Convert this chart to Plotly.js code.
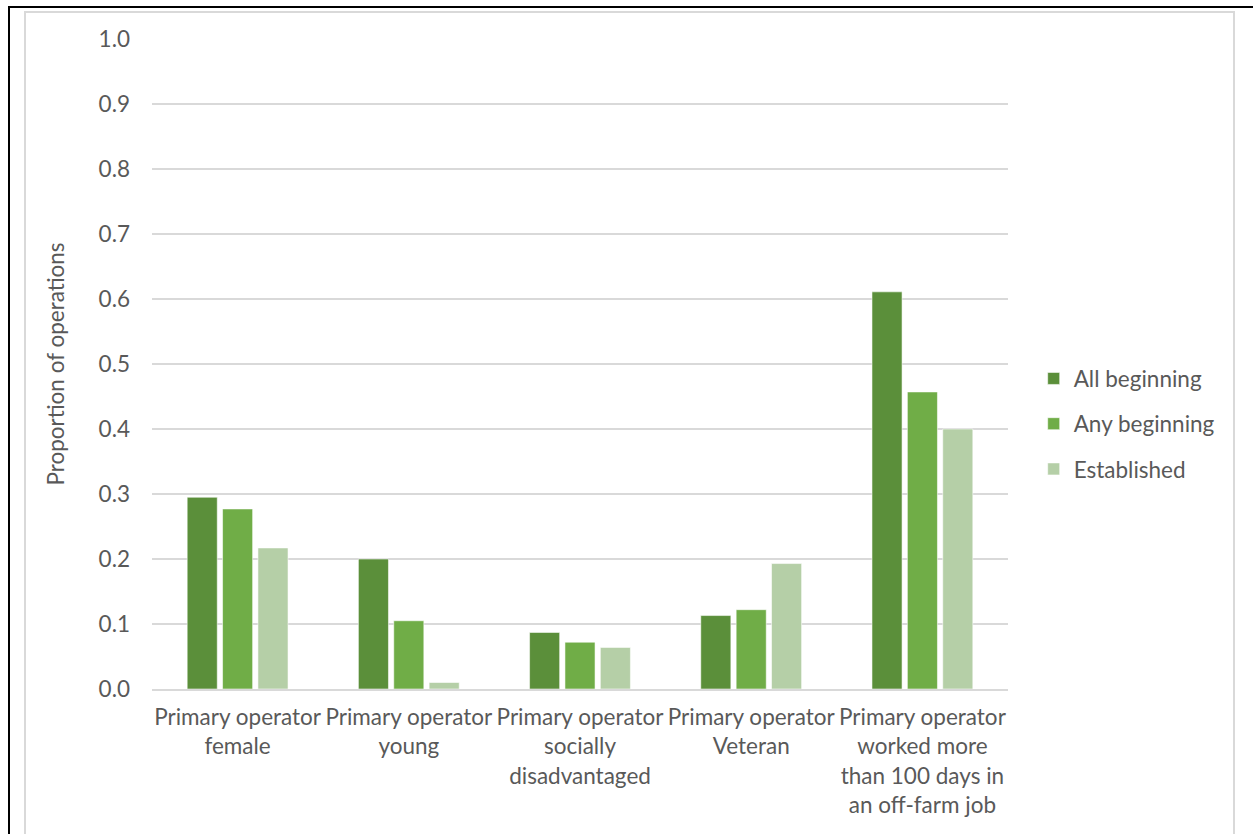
<!DOCTYPE html>
<html>
<head>
<meta charset="utf-8">
<script src="https://cdn.plot.ly/plotly-3.0.1.min.js"></script>
<style>
  html, body { margin: 0; padding: 0; background: #ffffff; overflow: hidden; }
  body { width: 1253px; height: 834px; position: relative; }
  #frameTop { position: absolute; left: 8px; top: 6px; width: 1245px; height: 2px; background: #000; }
  #frameLeft { position: absolute; left: 8px; top: 6px; width: 2px; height: 828px; background: #000; }
  #chartBox { position: absolute; left: 24px; top: 11px; width: 1211px; height: 840px;
              border: 2px solid #d9d9d9; box-sizing: border-box; }
  #chart { position: absolute; left: 0; top: 0; width: 1253px; height: 834px; }
</style>
</head>
<body>
<div id="frameTop"></div>
<div id="frameLeft"></div>
<div id="chartBox"></div>
<div id="chart"></div>
<script>
// Operator characteristics, proportion of operations by beginning status
const categories = [
  "Primary operator<br>female",
  "Primary operator<br>young",
  "Primary operator<br>socially<br>disadvantaged",
  "Primary operator<br>Veteran",
  "Primary operator<br>worked more<br>than 100 days in<br>an off-farm job"
];
const allBeginning = [0.295, 0.200, 0.087, 0.113, 0.611];
const anyBeginning = [0.277, 0.105, 0.072, 0.122, 0.457];
const established  = [0.217, 0.010, 0.064, 0.193, 0.400];

const seriesNames  = ["All beginning", "Any beginning", "Established"];
const seriesColors = ["#5b8f3a", "#70ad47", "#b5cfa7"];
const seriesValues = [allBeginning, anyBeginning, established];

const yTickVals = [0, 0.1, 0.2, 0.3, 0.4, 0.5, 0.6, 0.7, 0.8, 0.9, 1.0];

const fontFamily = "Lato, 'Open Sans', sans-serif";
const textColor = "#595959";
const fontSize = 22.5;

const traces = seriesNames.map((name, i) => ({
  type: "bar",
  name: name,
  x: categories,
  y: seriesValues[i],
  legendgroup: name,
  marker: { color: seriesColors[i], line: { color: "rgba(255,255,255,0.55)", width: 1 } },
  hoverinfo: "x+y+name"
}));

const layout = {
  width: 1253,
  height: 834,
  paper_bgcolor: "rgba(0,0,0,0)",
  plot_bgcolor: "rgba(0,0,0,0)",
  margin: { l: 152, r: 245, t: 39, b: 145, pad: 0 },
  barmode: "group",
  bargap: 0.38,
  bargroupgap: 0.15,
  font: { family: fontFamily, size: fontSize, color: textColor },
  xaxis: {
    type: "category",
    showgrid: false,
    showline: true,
    linecolor: "#d9d9d9",
    linewidth: 2,
    ticks: "",
    ticklabelstandoff: 7,
    tickfont: { family: fontFamily, size: fontSize, color: textColor },
    automargin: false,
    fixedrange: true
  },
  yaxis: {
    range: [0, 1.0],
    tickvals: yTickVals,
    tickformat: ".1f",
    showgrid: true,
    gridcolor: "#d9d9d9",
    gridwidth: 2,
    zeroline: false,
    showline: false,
    ticks: "",
    ticklabelstandoff: 21,
    tickfont: { family: fontFamily, size: fontSize, color: textColor },
    title: { text: "Proportion of operations", font: { family: fontFamily, size: fontSize, color: textColor }, standoff: 27 },
    automargin: false,
    fixedrange: true
  },
  legend: {
    x: 1.03,
    xanchor: "left",
    y: 0.408,
    yanchor: "middle",
    traceorder: "grouped",
    tracegroupgap: 13,
    font: { family: fontFamily, size: fontSize, color: textColor },
    itemwidth: 30,
    bgcolor: "rgba(0,0,0,0)"
  },
  showlegend: true
};

Plotly.newPlot("chart", traces, layout, { displayModeBar: false, staticPlot: true });
</script>
</body>
</html>
